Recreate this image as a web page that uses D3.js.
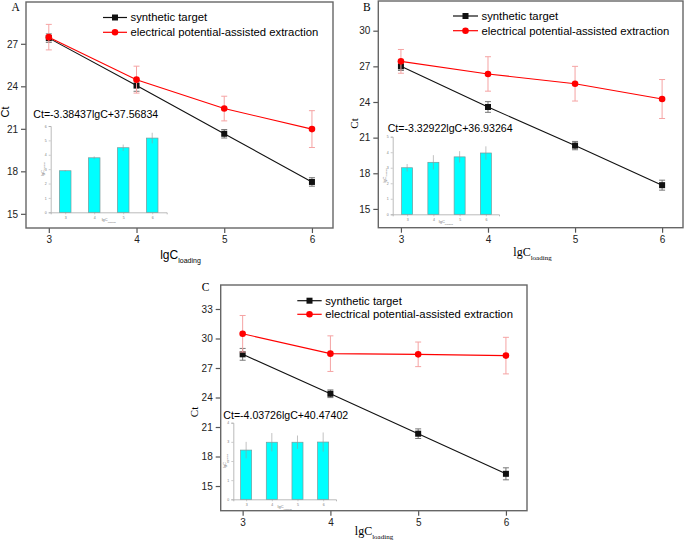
<!DOCTYPE html>
<html>
<head>
<meta charset="utf-8">
<script src="https://cdn.jsdelivr.net/npm/d3@7"></script>
<style>
  body { margin: 0; background: #fff; }
  svg { display: block; }
</style>
</head>
<body>
<script>
// x values shared by all three panels
const lgC = [3, 4, 5, 6];

// panel A
const syntheticA = [27.4, 24.05, 20.65, 17.25];
const syntheticErrA = [0.3, 0.4, 0.3, 0.3];
const extractionA = [27.47, 24.47, 22.43, 20.98];
const extractionErrA = [0.9, 0.95, 0.87, 1.3];
const insetA = [2.89, 3.79, 4.49, 5.16];
const insetErrA = [0.05, 0.1, 0.22, 0.37];

// panel B
const syntheticB = [27.0, 23.58, 20.33, 17.0];
const syntheticErrB = [0.35, 0.45, 0.35, 0.42];
const extractionB = [27.42, 26.36, 25.54, 24.25];
const extractionErrB = [1.0, 1.45, 1.46, 1.64];
const insetB = [3.0, 3.35, 3.7, 3.95];
const insetErrB = [0.24, 0.46, 0.37, 0.43];

// panel C
const syntheticC = [28.39, 24.38, 20.32, 16.24];
const syntheticErrC = [0.6, 0.39, 0.49, 0.61];
const extractionC = [30.48, 28.46, 28.39, 28.26];
const extractionErrC = [1.86, 1.81, 1.25, 1.86];
const insetC = [2.57, 2.98, 2.98, 2.99];
const insetErrC = [0.43, 0.48, 0.35, 0.5];

const legendLabels = ["synthetic target", "electrical potential-assisted extraction"];
const equations = ["Ct=-3.38437lgC+37.56834", "Ct=-3.32922lgC+36.93264", "Ct=-4.03726lgC+40.47402"];
const yTicksA = [15, 18, 21, 24, 27];
const yTicksB = [15, 18, 21, 24, 27, 30];
const yTicksC = [15, 18, 21, 24, 27, 30, 33];

const SANS = "'Liberation Sans', Arial, sans-serif";
const SERIF = "'Liberation Serif', 'Times New Roman', serif";

let svg = d3.select("body").append("svg")
  .attr("width", 685)
  .attr("height", 543);

function drawPanel(p) {
  let g = svg.append("g");
  let x = d3.scaleLinear().domain(p.xDom).range([p.left, p.right]);
  let y = d3.scaleLinear().domain(p.yDom).range([p.bottom, p.top]);

  // axes (ticks outward, frame drawn separately)
  let yAxis = g.append("g")
    .attr("transform", "translate(" + p.left + ",0)")
    .call(d3.axisLeft(y).tickValues(p.yTicks).tickSize(5).tickPadding(3));
  let xAxis = g.append("g")
    .attr("transform", "translate(0," + p.bottom + ")")
    .call(d3.axisBottom(x).tickValues(lgC).tickSize(5).tickPadding(3).tickFormat(d3.format("d")));
  [xAxis, yAxis].forEach(a => {
    a.select(".domain").remove();
    a.selectAll("line").attr("stroke", "#555").attr("stroke-width", 1.2);
    a.selectAll("text").attr("fill", "#222").style("font-family", SANS).style("font-size", "10px");
  });

  g.append("rect")
    .attr("x", p.left).attr("y", p.top)
    .attr("width", p.right - p.left).attr("height", p.bottom - p.top)
    .attr("fill", "none").attr("stroke", "#666").attr("stroke-width", 1.4);

  // panel letter
  g.append("text")
    .attr("x", p.letterX).attr("y", p.letterY)
    .style("font-family", SERIF).style("font-size", "11.5px")
    .text(p.letter);

  // axis titles
  let xt = g.append("text")
    .attr("x", p.xTitle[0]).attr("y", p.xTitle[1])
    .attr("text-anchor", "middle")
    .style("font-family", p.titleFont).style("font-size", "12px")
    .text("lgC");
  xt.append("tspan").attr("dy", 4).style("font-size", "7px").text("loading");

  g.append("text")
    .attr("transform", "translate(" + p.yTitle[0] + "," + p.yTitle[1] + ") rotate(-90)")
    .attr("text-anchor", "middle")
    .style("font-family", p.titleFont).style("font-size", "11px")
    .text("Ct");

  // equation
  g.append("text")
    .attr("x", p.eq[0]).attr("y", p.eq[1])
    .style("font-family", SANS).style("font-size", "10.6px")
    .text(p.equation);

  // inset bar chart
  let ix = d3.scaleLinear().domain(p.inset.xDom).range([p.inset.left, p.inset.right]);
  let iy = d3.scaleLinear().domain([0, p.inset.yMax]).range([p.inset.bottom, p.inset.top]);
  let ig = g.append("g");
  let iyAxis = ig.append("g")
    .attr("transform", "translate(" + p.inset.left + ",0)")
    .call(d3.axisLeft(iy).ticks(p.inset.yMax).tickSize(2).tickPadding(2));
  let ixAxis = ig.append("g")
    .attr("transform", "translate(0," + p.inset.bottom + ")")
    .call(d3.axisBottom(ix).tickValues(lgC).tickSize(2).tickPadding(2).tickFormat(d3.format("d")));
  [iyAxis, ixAxis].forEach(a => {
    a.select(".domain").attr("stroke", "#aaa").attr("stroke-width", 0.8);
    a.selectAll("line").attr("stroke", "#aaa").attr("stroke-width", 0.6);
    a.selectAll("text").attr("fill", "#777").style("font-family", SANS).style("font-size", "3.5px");
  });
  let bw = p.inset.barW;
  ig.selectAll("rect.bar")
    .data(p.inset.values)
    .enter().append("rect")
      .attr("class", "bar")
      .attr("x", (d, i) => ix(lgC[i]) - (ix(lgC[i] + bw) - ix(lgC[i])) / 2)
      .attr("width", ix(lgC[0] + bw) - ix(lgC[0]))
      .attr("y", d => iy(d))
      .attr("height", d => iy(0) - iy(d))
      .attr("fill", "#00ffff")
      .attr("stroke", "#7a9a9a")
      .attr("stroke-width", 0.7);
  ig.selectAll("line.ierr")
    .data(p.inset.values)
    .enter().append("line")
      .attr("class", "ierr")
      .attr("x1", (d, i) => ix(lgC[i])).attr("x2", (d, i) => ix(lgC[i]))
      .attr("y1", (d, i) => iy(d + p.inset.errs[i]))
      .attr("y2", (d, i) => iy(d - p.inset.errs[i]))
      .attr("stroke", "#999").attr("stroke-width", 0.6);
  let icx = (p.inset.left + p.inset.right) / 2;
  let ixt = ig.append("text")
    .attr("x", icx).attr("y", p.inset.bottom + 9)
    .attr("text-anchor", "middle").attr("fill", "#777")
    .style("font-family", SANS).style("font-size", "4px")
    .text("lgC");
  ixt.append("tspan").attr("dy", 1.3).style("font-size", "2.5px").text("loading");
  let iyt = ig.append("text")
    .attr("transform", "translate(" + (p.inset.left - 7) + "," + ((p.inset.top + p.inset.bottom) / 2) + ") rotate(-90)")
    .attr("text-anchor", "middle").attr("fill", "#777")
    .style("font-family", SANS).style("font-size", "4px")
    .text("lgC");
  iyt.append("tspan").attr("dy", 1.3).style("font-size", "2.5px").text("loading");

  // series
  let series = [
    { vals: p.synthetic, errs: p.syntheticErr, color: "#111", errColor: "#777", shape: "square" },
    { vals: p.extraction, errs: p.extractionErr, color: "#ff0000", errColor: "#f5a3a3", shape: "circle" }
  ];
  let line = d3.line().x((d, i) => x(lgC[i])).y(d => y(d));

  series.forEach(s => {
    let sg = g.append("g");
    // error bars
    let eb = sg.selectAll("g.err")
      .data(s.vals)
      .enter().append("g").attr("class", "err");
    eb.append("line")
      .attr("x1", (d, i) => x(lgC[i])).attr("x2", (d, i) => x(lgC[i]))
      .attr("y1", (d, i) => y(d + s.errs[i])).attr("y2", (d, i) => y(d - s.errs[i]));
    eb.append("line")
      .attr("x1", (d, i) => x(lgC[i]) - 3).attr("x2", (d, i) => x(lgC[i]) + 3)
      .attr("y1", (d, i) => y(d + s.errs[i])).attr("y2", (d, i) => y(d + s.errs[i]));
    eb.append("line")
      .attr("x1", (d, i) => x(lgC[i]) - 3).attr("x2", (d, i) => x(lgC[i]) + 3)
      .attr("y1", (d, i) => y(d - s.errs[i])).attr("y2", (d, i) => y(d - s.errs[i]));
    eb.selectAll("line").attr("stroke", s.errColor).attr("stroke-width", 1);

    sg.append("path")
      .datum(s.vals)
      .attr("d", line)
      .attr("fill", "none")
      .attr("stroke", s.color)
      .attr("stroke-width", 1.1);

    if (s.shape == "square") {
      sg.selectAll("rect.pt").data(s.vals).enter().append("rect")
        .attr("class", "pt")
        .attr("x", (d, i) => x(lgC[i]) - 3).attr("y", d => y(d) - 3)
        .attr("width", 6).attr("height", 6)
        .attr("fill", s.color);
    } else {
      sg.selectAll("circle.pt").data(s.vals).enter().append("circle")
        .attr("class", "pt")
        .attr("cx", (d, i) => x(lgC[i])).attr("cy", d => y(d))
        .attr("r", 3.3)
        .attr("fill", s.color);
    }
  });

  // legend
  let lg = g.append("g");
  [0, 1].forEach(k => {
    let s = series[k];
    let ly = p.legend.y[k];
    lg.append("line")
      .attr("x1", p.legend.x1).attr("x2", p.legend.x2)
      .attr("y1", ly).attr("y2", ly)
      .attr("stroke", s.color).attr("stroke-width", 1.2);
    let mx = (p.legend.x1 + p.legend.x2) / 2;
    if (s.shape == "square") {
      lg.append("rect").attr("x", mx - 3).attr("y", ly - 3).attr("width", 6).attr("height", 6).attr("fill", s.color);
    } else {
      lg.append("circle").attr("cx", mx).attr("cy", ly).attr("r", 3.3).attr("fill", s.color);
    }
    lg.append("text")
      .attr("x", p.legend.x2 + 3.5).attr("y", ly)
      .attr("dy", "0.35em")
      .style("font-family", SANS).style("font-size", "11.3px")
      .text(legendLabels[k]);
  });
}

drawPanel({
  letter: "A", letterX: 11.5, letterY: 10.5,
  left: 26, right: 333, top: 2, bottom: 228,
  xDom: [2.74, 6.24], yDom: [14, 29.95], yTicks: yTicksA,
  synthetic: syntheticA, syntheticErr: syntheticErrA,
  extraction: extractionA, extractionErr: extractionErrA,
  titleFont: SANS, xTitle: [180.5, 259], yTitle: [8.5, 112],
  equation: equations[0], eq: [33.3, 118],
  legend: { x1: 103, x2: 127, y: [17.5, 32.3] },
  inset: { left: 50.7, right: 166.7, top: 126, bottom: 212.3, xDom: [2.5, 6.5], yMax: 6,
           barW: 0.4, values: insetA, errs: insetErrA }
});

drawPanel({
  letter: "B", letterX: 363, letterY: 10.5,
  left: 378.3, right: 683, top: 1, bottom: 227.7,
  xDom: [2.74, 6.24], yDom: [13.42, 32.5], yTicks: yTicksB,
  synthetic: syntheticB, syntheticErr: syntheticErrB,
  extraction: extractionB, extractionErr: extractionErrB,
  titleFont: SERIF, xTitle: [532.5, 256], yTitle: [358, 123.5],
  equation: equations[1], eq: [387.7, 132],
  legend: { x1: 453, x2: 478, y: [16, 30.7] },
  inset: { left: 392.7, right: 499, top: 136.7, bottom: 214.3, xDom: [2.45, 6.5], yMax: 5,
           barW: 0.42, values: insetB, errs: insetErrB }
});

drawPanel({
  letter: "C", letterX: 201.7, letterY: 290.7,
  left: 220.7, right: 527, top: 285, bottom: 510.7,
  xDom: [2.75, 6.24], yDom: [12.49, 35.44], yTicks: yTicksC,
  synthetic: syntheticC, syntheticErr: syntheticErrC,
  extraction: extractionC, extractionErr: extractionErrC,
  titleFont: SERIF, xTitle: [374, 535], yTitle: [198, 412],
  equation: equations[2], eq: [223.3, 419],
  legend: { x1: 297.3, x2: 321.7, y: [300.7, 314.3] },
  inset: { left: 233.3, right: 336, top: 422.7, bottom: 499.3, xDom: [2.5, 6.5], yMax: 4,
           barW: 0.43, values: insetC, errs: insetErrC }
});
</script>
</body>
</html>
